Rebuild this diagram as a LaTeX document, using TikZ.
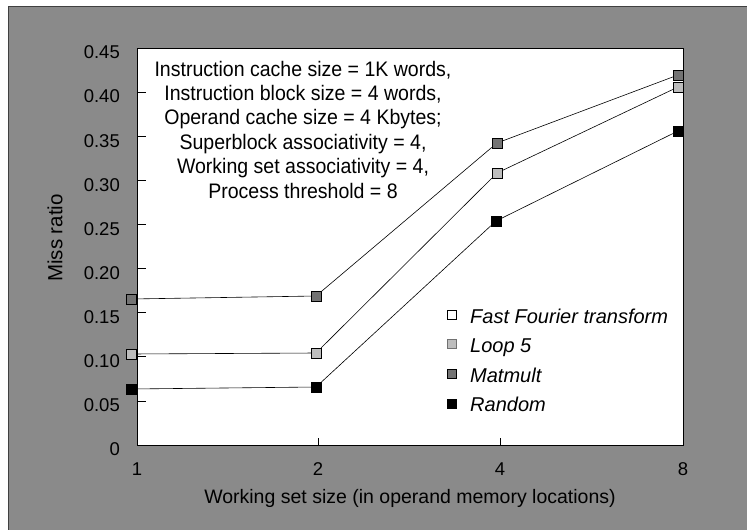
\documentclass[tikz,border=0pt]{standalone}
\usepackage{fontspec}
\setmainfont{Liberation Sans}
\newfontfamily\condfont{Liberation Sans}[FakeStretch=0.93]
\definecolor{bgGray}{gray}{0.54}
\definecolor{lightMk}{gray}{0.74}
\definecolor{darkMk}{gray}{0.45}
\begin{document}
\begin{tikzpicture}[x=1pt,y=-1pt,
  mk/.style={rectangle, draw=black, line width=0.4pt, minimum size=10pt, inner sep=0pt},
  series/.style={line width=0.6pt, black},
  ticklbl/.style={font=\fontsize{18.5}{20}\selectfont, inner sep=0pt},
  paramtxt/.style={font=\condfont\fontsize{21}{24}\selectfont, inner sep=0pt, anchor=base},
  legtxt/.style={font=\fontsize{20}{22}\selectfont\itshape, inner sep=0pt, anchor=base west},
  axtitle/.style={font=\fontsize{19.5}{22}\selectfont, inner sep=0pt}]
\useasboundingbox (0,0) rectangle (747,530);
\fill[white] (0,0) rectangle (747,530);
\fill[bgGray] (8,6) rectangle (747,530);
\draw[black!75, line width=0.8pt] (8,530) -- (8,6) -- (747,6);
\filldraw[fill=white, draw=black, line width=0.7pt] (137,48) rectangle (683,445);
% y ticks
\foreach \k in {1,...,8} \draw[line width=0.6pt] (137,{445-44.11*\k}) -- ++(9,0);
% x ticks
\foreach \x in {318,500} \draw[line width=0.6pt] (\x,445) -- ++(0,-7);
% y tick labels
\foreach \v [count=\k from 0] in {0,0.05,0.10,0.15,0.20,0.25,0.30,0.35,0.40,0.45}
  \node[ticklbl, anchor=east] (yl\k) at (120,{445-44.11*\k+4.5}) {\v};
% x tick labels
\node[ticklbl] (xl1) at (137,469) {1};
\node[ticklbl] (xl2) at (318,469) {2};
\node[ticklbl] (xl4) at (500,469) {4};
\node[ticklbl] (xl8) at (683,469) {8};
% axis titles
\node[axtitle] (xtitle) at (410,498) {Working set size (in operand memory locations)};
\node[axtitle, rotate=90, font=\fontsize{20.5}{22}\selectfont] (ytitle) at (55,238) {Miss ratio};
% parameters text
\foreach \t [count=\i from 0] in {{Instruction cache size = 1K words,},
  {Instruction block size = 4 words,},
  {Operand cache size = 4 Kbytes;},
  {Superblock associativity = 4,},
  {Working set associativity = 4,},
  {Process threshold = 8}}
  \node[paramtxt] (p\i) at (303,{76+24.4*\i}) {\t};
% data series markers
\node[mk, fill=black] (r1) at (131,389) {};
\node[mk, fill=black] (r2) at (316,387) {};
\node[mk, fill=black] (r4) at (496,221) {};
\node[mk, fill=black] (r8) at (678,131) {};
\node[mk, fill=lightMk] (l1) at (131,354) {};
\node[mk, fill=lightMk] (l2) at (316,353) {};
\node[mk, fill=lightMk] (l4) at (497,173) {};
\node[mk, fill=lightMk] (l8) at (678,87) {};
\node[mk, fill=darkMk] (m1) at (131,299) {};
\node[mk, fill=darkMk] (m2) at (316,296) {};
\node[mk, fill=darkMk] (m4) at (497,143) {};
\node[mk, fill=darkMk] (m8) at (678,75) {};
\draw[series] (r1) -- (r2) -- (r4) -- (r8);
\draw[series] (l1) -- (l2) -- (l4) -- (l8);
\draw[series] (m1) -- (m2) -- (m4) -- (m8);
% legend
\node[mk, fill=white, minimum size=9pt] (lgf) at (452,315) {};
\node[mk, fill=lightMk, draw=lightMk!60!black, minimum size=9pt] (lgl) at (452,344) {};
\node[mk, fill=darkMk, minimum size=9pt] (lgm) at (452,374) {};
\node[mk, fill=black, minimum size=9pt] (lgr) at (452,404) {};
\node[legtxt] (tf) at (470,323) {Fast Fourier transform};
\node[legtxt] (tl) at (470,352.5) {Loop 5};
\node[legtxt] (tm) at (470,382) {Matmult};
\node[legtxt] (tr) at (470,411.5) {Random};
\end{tikzpicture}
\end{document}
